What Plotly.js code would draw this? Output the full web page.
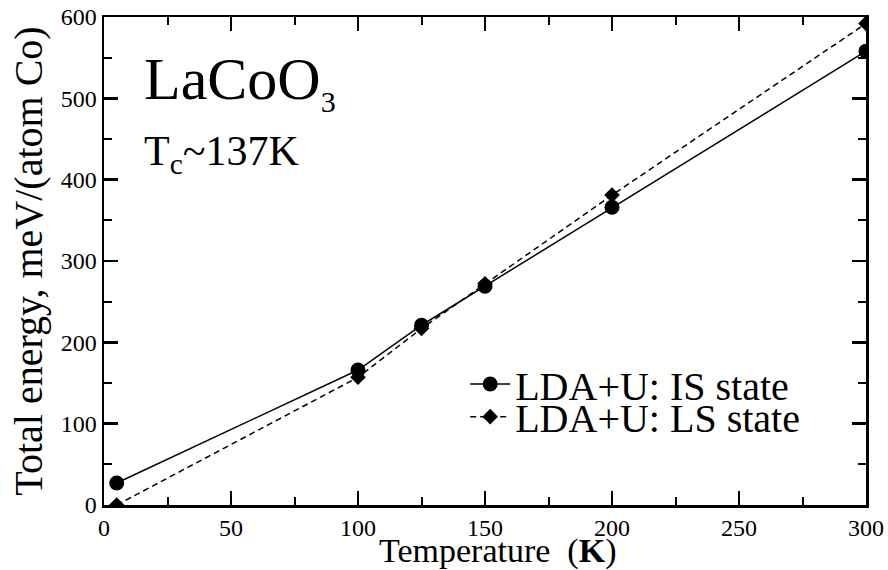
<!DOCTYPE html>
<html>
<head>
<meta charset="utf-8">
<script src="https://cdn.plot.ly/plotly-3.0.1.min.js"></script>
<style>html,body{margin:0;padding:0;background:#fff;}#chart{width:888px;height:570px;}</style>
</head>
<body>
<div id="chart"></div>
<script>
const temperature = [5, 100, 125, 150, 200, 300];
const energyIS = [27, 166, 221, 269, 366, 558];
const energyLS = [0, 157, 217, 272, 381, 592];
const seriesNames = ["LDA+U: IS state", "LDA+U: LS state"];
const xTicks = [0, 50, 100, 150, 200, 250, 300];
const yTicks = [0, 100, 200, 300, 400, 500, 600];

const F = "Liberation Serif";

const traces = [
  {
    x: temperature, y: energyIS, name: seriesNames[0], type: "scatter", mode: "lines+markers",
    line: {color: "#000", width: 1.5},
    marker: {symbol: "circle", size: 15, color: "#000"},
    legend: "legend"
  },
  {
    x: temperature, y: energyLS, name: seriesNames[1], type: "scatter", mode: "lines+markers",
    line: {color: "#000", width: 1.5, dash: "6px,4px"},
    marker: {symbol: "diamond", size: 12, color: "#000"},
    legend: "legend2"
  }
];

const axisCommon = {
  showgrid: false, zeroline: false, showline: true, linecolor: "#000", linewidth: 2.5,
  mirror: "ticks", ticks: "inside", ticklen: 14, tickwidth: 2.5, tickcolor: "#000",
  tickfont: {family: F, size: 24, color: "#000"}
};

const legendCommon = {
  xanchor: "left", yanchor: "middle",
  font: {family: F, size: 40, color: "#000"},
  bgcolor: "rgba(0,0,0,0)", borderwidth: 0, itemwidth: 40
};

const layout = {
  width: 888, height: 570,
  margin: {l: 104, r: 22, t: 17, b: 65},
  paper_bgcolor: "#fff", plot_bgcolor: "#fff",
  font: {family: F, color: "#000"},
  showlegend: true,
  legend: Object.assign({}, legendCommon, {x: 0.474, y: 0.248}),
  legend2: Object.assign({}, legendCommon, {x: 0.474, y: 0.181}),
  xaxis: Object.assign({}, axisCommon, {
    range: [0, 300], tickvals: xTicks, ticktext: xTicks.map(String),
    minor: {ticks: "inside", ticklen: 8, tickwidth: 2, tickcolor: "#000", dtick: 25, tick0: 0},
    title: {text: "&nbsp;&nbsp;&nbsp;Temperature  (<b>K</b>)", font: {family: F, size: 34, color: "#000"}, standoff: 3}
  }),
  yaxis: Object.assign({}, axisCommon, {
    range: [0, 600], tickvals: yTicks, ticktext: yTicks.map(String),
    minor: {ticks: "inside", ticklen: 8, tickwidth: 2, tickcolor: "#000", dtick: 50, tick0: 0},
    title: {text: "Total energy, meV/(atom Co)", font: {family: F, size: 40, color: "#000"}, standoff: 6}
  }),
  annotations: [
    {xref: "paper", yref: "paper", x: 0.05, y: 0.945, xanchor: "left", yanchor: "top", showarrow: false,
     text: "LaCoO<sub><span style='font-size:30px'>3</span></sub>", font: {family: F, size: 60, color: "#000"}},
    {xref: "paper", yref: "paper", x: 0.05, y: 0.777, xanchor: "left", yanchor: "top", showarrow: false,
     text: "T<sub>c</sub>~137K", font: {family: F, size: 42, color: "#000"}}
  ]
};

Plotly.newPlot("chart", traces, layout, {displayModeBar: false, staticPlot: true});
</script>
</body>
</html>
